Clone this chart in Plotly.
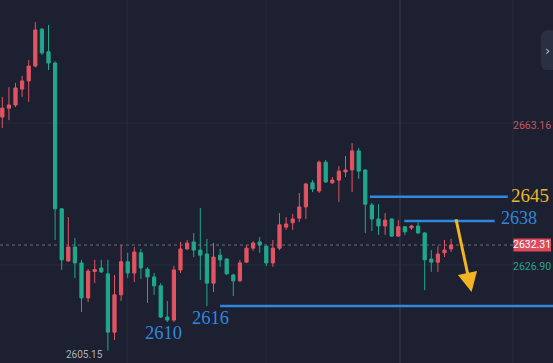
import plotly.graph_objects as go

# ---- data ----
opens = [2665.2, 2667.5, 2668.3, 2672.4, 2674.5, 2678.3, 2687.8, 2682.0, 2679.1, 2641.6,
         2628.2, 2631.8, 2627.7, 2618.7, 2625.5, 2626.4, 2624.9, 2609.9, 2619.5, 2628.0,
         2625.1, 2630.3, 2626.1, 2624.1, 2621.8, 2613.8, 2613.0, 2625.9, 2631.3, 2633.1,
         2631.0, 2630.0, 2622.5, 2629.7, 2628.7, 2624.6, 2623.1, 2627.9, 2631.5, 2633.1,
         2632.0, 2627.7, 2631.5, 2636.9, 2638.0, 2639.2, 2642.1, 2648.3, 2646.2, 2653.6,
         2648.3, 2649.0, 2651.1, 2651.6, 2656.5, 2651.6, 2642.6, 2639.0, 2637.2, 2639.0,
         2634.6, 2637.0, 2636.7, 2637.2, 2635.4, 2628.7, 2627.9, 2630.3, 2631.3]
highs = [2670.4, 2672.9, 2674.0, 2675.8, 2679.9, 2689.6, 2688.1, 2688.9, 2679.5, 2641.8,
         2639.5, 2634.1, 2628.5, 2626.1, 2628.5, 2628.5, 2628.5, 2624.6, 2632.3, 2630.3,
         2631.8, 2631.3, 2626.6, 2625.1, 2622.5, 2617.9, 2626.9, 2633.1, 2633.6, 2635.4,
         2641.8, 2633.9, 2632.8, 2631.3, 2628.9, 2624.9, 2628.5, 2632.3, 2633.3, 2634.4,
         2632.3, 2633.6, 2640.5, 2639.5, 2640.3, 2645.7, 2648.3, 2649.0, 2654.0, 2654.2,
         2649.8, 2652.6, 2655.2, 2658.5, 2657.3, 2651.8, 2643.1, 2642.8, 2640.5, 2639.2,
         2638.7, 2637.2, 2637.5, 2638.2, 2635.6, 2631.0, 2632.0, 2633.6, 2633.9]
lows = [2662.4, 2664.4, 2667.8, 2670.4, 2669.1, 2678.0, 2681.2, 2677.3, 2633.6, 2625.9,
        2628.0, 2623.8, 2615.1, 2617.7, 2622.5, 2625.1, 2605.15, 2607.9, 2617.9, 2623.8,
        2622.8, 2623.6, 2617.4, 2619.5, 2613.5, 2612.5, 2612.5, 2625.1, 2631.0, 2629.2,
        2623.3, 2616.6, 2620.2, 2626.7, 2624.6, 2619.2, 2622.8, 2627.7, 2630.8, 2630.3,
        2626.9, 2626.7, 2631.0, 2636.2, 2636.2, 2638.2, 2639.0, 2645.9, 2645.7, 2648.3,
        2648.0, 2643.4, 2649.8, 2645.9, 2649.3, 2635.4, 2635.9, 2634.9, 2634.9, 2634.4,
        2634.4, 2634.9, 2636.2, 2635.2, 2620.7, 2625.4, 2625.4, 2629.2, 2630.5]
closes = [2667.5, 2668.3, 2672.7, 2674.5, 2678.3, 2687.6, 2681.7, 2679.1, 2641.6, 2628.5,
          2631.8, 2627.7, 2618.7, 2625.6, 2626.0, 2625.4, 2609.9, 2619.5, 2628.0, 2625.1,
          2630.5, 2626.4, 2624.1, 2621.8, 2613.8, 2613.0, 2625.9, 2631.3, 2632.8, 2631.0,
          2629.7, 2622.5, 2629.2, 2628.5, 2624.9, 2623.1, 2627.7, 2631.5, 2632.8, 2632.3,
          2627.7, 2631.5, 2637.5, 2637.7, 2639.0, 2642.1, 2648.0, 2646.7, 2653.6, 2648.5,
          2649.0, 2651.3, 2651.6, 2656.5, 2651.3, 2642.8, 2639.0, 2637.2, 2638.7, 2634.6,
          2637.0, 2635.7, 2637.2, 2635.4, 2628.5, 2627.9, 2630.0, 2631.0, 2632.31]
bar_index = list(range(len(opens)))

last_price = 2632.31
axis_labels = ["2663.16", "2632.31", "2626.90"]
axis_label_prices = [2663.16, 2632.31, 2626.90]
low_label = "2605.15"

# hand-drawn support / resistance marks (levels, start bar, end bar)
level_texts = ["2645", "2638", "2616"]
level_prices = [2644.7, 2638.5, 2616.6]
level_start = [55.7, 60.9, 33.0]
level_end = [76.6, 74.6, 83.6]
extra_text = "2610"
arrow_tail = (68.7, 2639.3)
arrow_head = (71.1, 2620.2)

# ---- styles ----
BG = "#1c2030"
RED = "#e25462"
GREEN = "#1fa98c"
GRID = "#272c3b"
BLUE = "#2f88dc"
GOLD = "#ebb52c"
W, H = 553, 363
X_RANGE = [-0.35, 83.44]
Y_RANGE = [2601.97, 2695.3]

fig = go.Figure()
fig.add_trace(go.Candlestick(
    x=bar_index, open=opens, high=highs, low=lows, close=closes,
    increasing=dict(line=dict(color=RED, width=1), fillcolor=RED),
    decreasing=dict(line=dict(color=GREEN, width=1), fillcolor=GREEN),
    whiskerwidth=0, hoverinfo="skip", showlegend=False,
))

shapes = []
# grid lines (pixel positions converted to paper fractions)
for px in [127, 266, 513]:
    shapes.append(dict(type="line", xref="paper", yref="paper", x0=px / W, x1=px / W,
                       y0=0, y1=1, line=dict(color=GRID, width=1), layer="below"))
shapes.append(dict(type="line", xref="paper", yref="paper", x0=400 / W, x1=400 / W,
                   y0=0, y1=1, line=dict(color="#363c4c", width=1), layer="below"))
for py in [123, 265]:
    shapes.append(dict(type="line", xref="paper", yref="paper", x0=0, x1=513 / W,
                       y0=1 - py / H, y1=1 - py / H, line=dict(color=GRID, width=1), layer="below"))
# last price dotted line
shapes.append(dict(type="line", xref="paper", yref="y", x0=0, x1=513 / W,
                   y0=last_price, y1=last_price,
                   line=dict(color="#6b6f7c", width=1, dash="dot"), layer="below"))
# level lines
for p, s, e in zip(level_prices, level_start, level_end):
    shapes.append(dict(type="line", xref="x", yref="y", x0=s, x1=e, y0=p, y1=p,
                       line=dict(color=BLUE, width=2.5)))
# last price box
shapes.append(dict(type="rect", xref="paper", yref="y", x0=513.5 / W, x1=551 / W,
                   y0=last_price - 1.7, y1=last_price + 1.7,
                   fillcolor="#dd4a5c", line=dict(width=0)))
# right side collapse button
shapes.append(dict(type="path", xref="paper", yref="paper",
                   path="M 0.99 0.917 L 0.9875 0.917 Q 0.978 0.914 0.978 0.895 L 0.978 0.83 Q 0.978 0.81 0.9875 0.807 L 1 0.807 L 1 0.917 Z",
                   fillcolor="#2a3041", line=dict(width=0)))

annotations = []
# axis price labels
label_colors = ["#c45866", "#ffffff", "#2aa58e"]
for txt, p, col in zip(axis_labels, axis_label_prices, label_colors):
    annotations.append(dict(x=532 / W, xref="paper", y=p, yref="y", text=txt,
                            showarrow=False, font=dict(family="Roboto", size=10.5, color=col),
                            xanchor="center", yanchor="middle"))
annotations.append(dict(x=84 / W, xref="paper", y=1 - 354 / H, yref="paper", text=low_label,
                        showarrow=False, font=dict(family="Roboto", size=10, color="#aeb2bb"),
                        xanchor="center", yanchor="middle"))
annotations.append(dict(x=547.5 / W, xref="paper", y=1 - 51 / H, yref="paper", text="›",
                        showarrow=False, font=dict(family="DejaVu Sans", size=13, color="#b8bcc6"),
                        xanchor="center", yanchor="middle"))
# level texts
serif = "Liberation Serif"
annotations.append(dict(x=530 / W, xref="paper", y=1 - 195.5 / H, yref="paper", text=level_texts[0],
                        showarrow=False, font=dict(family=serif, size=19, color=GOLD),
                        xanchor="center", yanchor="middle"))
annotations.append(dict(x=519 / W, xref="paper", y=1 - 217.5 / H, yref="paper", text=level_texts[1],
                        showarrow=False, font=dict(family=serif, size=18, color=BLUE),
                        xanchor="center", yanchor="middle"))
annotations.append(dict(x=210 / W, xref="paper", y=1 - 317.5 / H, yref="paper", text=level_texts[2],
                        showarrow=False, font=dict(family=serif, size=18.5, color=BLUE),
                        xanchor="center", yanchor="middle"))
annotations.append(dict(x=163.5 / W, xref="paper", y=1 - 333 / H, yref="paper", text=extra_text,
                        showarrow=False, font=dict(family=serif, size=18.5, color=BLUE),
                        xanchor="center", yanchor="middle"))
# arrow
annotations.append(dict(x=arrow_head[0], y=arrow_head[1], xref="x", yref="y",
                        ax=arrow_tail[0], ay=arrow_tail[1], axref="x", ayref="y",
                        showarrow=True, arrowhead=2, arrowsize=1.3, arrowwidth=3,
                        arrowcolor="#f2b424", text=""))

fig.update_layout(
    width=W, height=H, margin=dict(l=0, r=0, t=0, b=0),
    paper_bgcolor=BG, plot_bgcolor=BG,
    xaxis=dict(visible=False, range=X_RANGE, rangeslider=dict(visible=False), fixedrange=True),
    yaxis=dict(visible=False, range=Y_RANGE, fixedrange=True),
    shapes=shapes, annotations=annotations, showlegend=False, boxgap=0.3,
)

fig.write_html("out.html", config={"displayModeBar": False},
               post_script="document.body.style.margin='0';document.body.style.background='" + BG + "';")
